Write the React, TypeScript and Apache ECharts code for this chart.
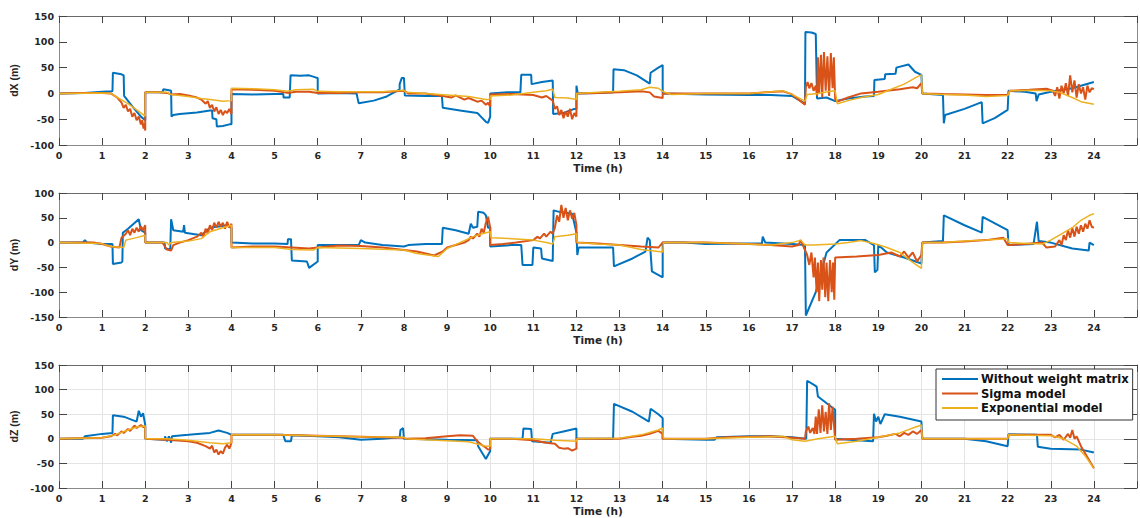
import React, { useEffect, useRef } from "react";
import * as echarts from "echarts";

// ---------- data (time in hours, value in metres) ----------
const seriesNames = ["Without weight matrix", "Sigma model", "Exponential model"];
const seriesColors = ["#0072BD", "#D95319", "#EDB120"];
const panelNames = ["dX (m)", "dY (m)", "dZ (m)"];
const panelMin = [-100, -150, -100];
const panelMax = [150, 100, 150];

const dxBlue = [[0,0],[0.6,1],[1.0,3],[1.24,4],[1.25,40],[1.45,37],[1.5,35],[1.51,-5],[1.7,-25],[1.9,-45],[2.0,-52],[2.0,2],[2.4,2],[2.42,8],[2.55,6],[2.6,5],[2.61,-45],[2.65,-42],[2.8,-40],[3.2,-37],[3.5,-33],[3.55,-33],[3.56,-48],[3.65,-50],[3.66,-64],[3.8,-63],[3.95,-60],[4.0,-60],[4.0,-1],[4.5,-2],[5.0,-1],[5.2,-1],[5.21,-8],[5.35,-8],[5.37,35],[5.6,34],[5.8,35],[5.95,31],[6.0,30],[6.0,0],[6.5,1],[6.9,0],[6.95,-19],[7.3,-14],[7.6,-6],[7.9,8],[7.9,18],[7.95,30],[8.0,30],[8.02,-4],[8.5,-5],[8.88,-5],[8.9,-28],[9.3,-33],[9.7,-38],[9.75,-42],[9.9,-55],[9.95,-57],[10.0,-45],[10.0,0],[10.4,2],[10.7,2],[10.72,36],[10.95,36],[10.96,18],[11.2,22],[11.45,25],[11.46,-40],[11.7,-38],[11.95,-30],[12.0,-30],[12.0,15],[12.03,0],[12.5,1],[12.85,2],[12.86,47],[13.1,45],[13.4,35],[13.7,19],[13.72,40],[13.9,50],[14.0,55],[14.0,0],[14.5,-1],[15,-2],[16,-3],[16.5,-3],[17.0,-5],[17.3,-20],[17.31,119],[17.45,118],[17.55,115],[17.58,-10],[17.8,-8],[18.0,-15],[18.3,-10],[18.7,-6],[18.9,-5],[18.91,26],[19.15,28],[19.16,37],[19.4,38],[19.42,50],[19.7,56],[19.85,42],[20,36],[20.02,0],[20.5,-3],[20.52,-58],[20.55,-42],[21.0,-30],[21.4,-17],[21.42,-58],[21.7,-48],[22,-32],[22.02,5],[22.4,3],[22.65,0],[22.67,-15],[22.72,-2],[23,3],[23.5,10],[24,22]];
const dxOrange = [[0,0],[0.5,1],[1.0,1],[1.2,0],[1.35,-8],[1.45,-18],[1.5,-28],[1.55,-22],[1.6,-35],[1.65,-30],[1.7,-45],[1.75,-38],[1.8,-52],[1.85,-45],[1.9,-60],[1.93,-52],[1.96,-68],[1.98,-58],[2.0,-72],[2.0,2],[2.3,2],[2.5,1],[2.6,-2],[2.8,-1],[3.0,-4],[3.2,-8],[3.3,-12],[3.4,-20],[3.45,-15],[3.5,-28],[3.55,-22],[3.6,-35],[3.65,-27],[3.7,-40],[3.75,-32],[3.8,-42],[3.85,-34],[3.9,-38],[3.95,-30],[4.0,-40],[4.0,8],[4.5,7],[5.0,5],[5.3,1],[5.5,3],[5.8,3],[6.0,1],[6.5,1],[7.0,2],[7.5,2],[8.0,5],[8.1,0],[8.5,0],[8.9,-5],[9.1,-8],[9.2,-4],[9.4,-12],[9.5,-9],[9.7,-16],[9.8,-14],[9.9,-22],[9.95,-18],[10.0,-26],[10.0,-2],[10.5,-1],[11.0,-3],[11.2,-8],[11.3,-5],[11.45,-14],[11.5,-30],[11.55,-25],[11.6,-42],[11.65,-32],[11.7,-48],[11.75,-35],[11.8,-45],[11.85,-30],[11.9,-50],[11.95,-38],[12.0,-45],[12.0,0],[12.5,1],[13.0,2],[13.5,4],[13.7,2],[13.8,-6],[14.0,-9],[14.0,0],[15,0],[16,0],[16.8,4],[17.0,-2],[17.3,-22],[17.32,12],[17.36,22],[17.4,10],[17.45,20],[17.5,5],[17.55,15],[17.58,-5],[17.6,70],[17.63,0],[17.67,75],[17.7,-8],[17.74,80],[17.78,5],[17.82,72],[17.86,-5],[17.9,78],[17.94,10],[17.97,70],[18.0,-12],[18.05,-16],[18.3,-8],[18.6,0],[19,3],[19.5,8],[19.8,12],[19.9,10],[20,20],[20.02,0],[20.5,-1],[21,-2],[21.5,-3],[22,-3],[22.05,5],[22.5,7],[22.9,9],[23.05,5],[23.1,-5],[23.15,12],[23.2,-10],[23.25,15],[23.3,0],[23.35,20],[23.4,-5],[23.45,35],[23.5,2],[23.55,25],[23.6,-8],[23.65,18],[23.7,0],[23.75,12],[23.8,-12],[23.85,15],[23.9,2],[23.95,10],[24,8]];
const dxYellow = [[0,0],[1.0,1],[1.2,0],[1.4,-10],[1.6,-20],[1.8,-32],[2.0,-44],[2.0,2],[2.5,2],[2.6,-2],[3.0,-6],[3.3,-10],[3.6,-13],[3.8,-15],[4.0,-14],[4.0,10],[4.5,9],[5.0,7],[5.3,4],[5.5,7],[5.9,8],[6.0,4],[6.5,3],[7.5,3],[8.0,6],[8.05,2],[8.5,0],[9.0,-3],[9.5,-6],[9.9,-12],[10.0,-12],[10.0,-5],[10.5,-3],[11,2],[11.3,5],[11.45,8],[11.5,-8],[11.8,-9],[12,-12],[12.0,0],[12.5,2],[13,4],[13.5,7],[13.7,12],[13.9,10],[14.0,4],[14.2,-2],[15,0],[16,0],[16.8,5],[17.0,-2],[17.3,-15],[17.35,-2],[17.6,0],[17.9,4],[18.0,5],[18.05,-20],[18.3,-14],[18.6,-8],[19,-2],[19.3,8],[19.6,18],[19.9,32],[20,36],[20.02,0],[20.5,-2],[21,-3],[21.5,-6],[22,-4],[22.05,5],[22.5,6],[23,5],[23.2,2],[23.5,-8],[23.7,-16],[24,-21]];

const dyBlue = [[0,0],[0.55,0],[0.6,5],[0.65,0],[1.0,-3],[1.24,-3],[1.25,-43],[1.45,-40],[1.47,-38],[1.48,20],[1.6,28],[1.85,47],[1.9,25],[2.0,20],[2.0,0],[2.45,0],[2.46,-12],[2.58,-14],[2.6,47],[2.65,25],[2.88,22],[2.9,35],[2.92,20],[3.3,15],[3.5,30],[3.9,35],[4.0,30],[4.0,0],[4.5,-2],[5.0,-2],[5.3,-3],[5.31,7],[5.38,7],[5.4,-36],[5.75,-38],[5.8,-51],[6.0,-38],[6.0,-5],[6.5,-5],[6.95,-5],[7.0,5],[7.1,0],[7.5,-5],[8.0,-8],[8.1,-5],[8.5,-3],[8.88,-3],[8.9,30],[9.2,25],[9.5,18],[9.55,38],[9.6,30],[9.7,32],[9.72,62],[9.85,60],[9.9,55],[9.95,30],[10.0,30],[10.0,-8],[10.5,-5],[10.72,-5],[10.75,-45],[10.98,-45],[11.0,-10],[11.18,-12],[11.2,-32],[11.45,-37],[11.47,65],[11.6,62],[11.9,58],[12.0,20],[12.02,-25],[12.05,-10],[12.5,-10],[12.85,-10],[12.87,-48],[13.3,-32],[13.6,-18],[13.65,10],[13.7,5],[13.75,-58],[14.0,-70],[14.0,0],[14.5,0],[15.0,-3],[16.0,-2],[16.3,-2],[16.32,12],[16.38,0],[17.0,-3],[17.3,-5],[17.32,-147],[17.55,-100],[17.8,-20],[18.1,5],[18.7,5],[18.9,-5],[18.92,-60],[18.98,-55],[19.0,-5],[19.2,-20],[19.6,-30],[20,-42],[20.02,0],[20.5,3],[20.52,55],[21.0,35],[21.4,20],[21.42,52],[22,25],[22.02,-5],[22.6,-3],[22.62,8],[22.68,42],[22.72,3],[23.0,0],[23.5,-12],[23.88,-16],[23.9,0],[24,-5]];
const dyOrange = [[0,0],[0.8,0],[1.0,-3],[1.2,-8],[1.4,-10],[1.45,10],[1.55,18],[1.6,25],[1.65,15],[1.7,28],[1.75,20],[1.8,30],[1.85,22],[1.9,33],[1.95,25],[2.0,35],[2.0,0],[2.4,0],[2.5,-14],[2.6,-16],[2.65,-5],[2.8,0],[3.0,5],[3.2,12],[3.3,20],[3.35,12],[3.4,28],[3.45,18],[3.5,35],[3.55,25],[3.6,40],[3.65,30],[3.7,42],[3.75,32],[3.8,40],[3.85,28],[3.9,42],[3.95,30],[4.0,38],[4.0,-10],[4.5,-8],[5,-8],[5.4,-10],[5.8,-12],[6.0,-10],[6.5,-6],[7,-7],[7.5,-10],[8,-15],[8.3,-18],[8.7,-26],[8.9,-18],[9.0,-10],[9.2,-5],[9.4,0],[9.5,5],[9.55,12],[9.6,8],[9.7,18],[9.75,12],[9.8,28],[9.85,20],[9.9,40],[9.95,52],[10.0,30],[10.0,-5],[10.3,-3],[10.6,0],[11.0,5],[11.1,12],[11.15,8],[11.25,18],[11.3,12],[11.4,22],[11.45,18],[11.5,30],[11.55,55],[11.6,42],[11.65,76],[11.7,50],[11.75,70],[11.8,45],[11.85,65],[11.9,48],[11.95,60],[12.0,35],[12.0,0],[12.5,-2],[13.0,-5],[13.5,-8],[13.9,-10],[14.0,0],[15,0],[16,-3],[16.5,-5],[17,-8],[17.15,-5],[17.2,5],[17.25,-5],[17.35,-25],[17.4,-45],[17.45,-20],[17.5,-70],[17.53,-30],[17.57,-100],[17.6,-40],[17.63,-118],[17.67,-35],[17.7,-95],[17.73,-30],[17.77,-110],[17.8,-40],[17.84,-118],[17.88,-35],[17.92,-100],[17.95,-40],[17.98,-115],[18.0,-30],[18.5,-28],[19,-25],[19.3,-20],[19.5,-28],[19.6,-18],[19.7,-30],[19.8,-20],[19.9,-38],[20,-25],[20.02,0],[20.5,0],[21,2],[21.5,5],[21.9,10],[22.0,-5],[22.4,-3],[22.8,0],[22.9,-10],[23.1,-8],[23.2,5],[23.25,-5],[23.3,15],[23.35,5],[23.4,25],[23.45,10],[23.5,30],[23.55,12],[23.6,32],[23.65,18],[23.7,35],[23.75,22],[23.8,38],[23.85,28],[23.9,45],[23.95,32],[24,30]];
const dyYellow = [[0,0],[1.0,-2],[1.2,-8],[1.5,-10],[1.55,5],[1.8,10],[2.0,15],[2.0,0],[2.5,0],[2.55,-5],[2.6,0],[3.0,3],[3.3,8],[3.5,22],[3.8,30],[4.0,35],[4.0,-10],[4.5,-10],[5,-10],[5.4,-14],[5.9,-15],[6.0,-10],[7,-12],[8,-15],[8.3,-22],[8.8,-28],[9.0,-12],[9.3,0],[9.6,12],[9.9,20],[10,22],[10.02,10],[10.5,8],[11,5],[11.3,0],[11.45,-3],[11.5,12],[11.8,15],[12,18],[12.02,0],[12.5,-3],[13,-5],[13.5,-14],[14,-19],[14.02,0],[15,0],[16,-3],[16.5,-5],[17,0],[17.2,5],[17.3,-5],[17.5,-5],[18,-3],[18.3,0],[18.6,4],[18.9,-2],[19.2,-10],[19.5,-20],[19.8,-40],[20,-52],[20.02,0],[20.5,0],[21,3],[21.5,5],[22,8],[22.02,0],[22.8,-3],[23,5],[23.3,20],[23.5,30],[23.7,45],[23.9,55],[24,58]];

const dzBlue = [[0,0],[0.55,0],[0.6,5],[1.0,10],[1.24,12],[1.25,48],[1.5,45],[1.8,35],[1.85,57],[1.9,45],[1.95,52],[2.0,28],[2.0,0],[2.45,-2],[2.46,5],[2.5,-5],[2.55,5],[2.6,-8],[2.62,5],[3.0,8],[3.5,12],[3.7,17],[3.9,12],[4.0,8],[4.5,8],[5.2,8],[5.25,-5],[5.38,-5],[5.4,7],[6,5],[6.5,3],[7,-2],[7.5,0],[7.9,3],[7.92,18],[7.98,22],[8.0,0],[8.5,-1],[9,-2],[9.7,-3],[9.72,-15],[9.9,-41],[10.0,-25],[10.0,0],[10.5,0],[10.75,0],[10.77,21],[10.95,20],[10.97,-5],[11.4,-8],[11.45,10],[11.7,15],[12.0,21],[12.0,0],[12.85,0],[12.87,71],[13.3,55],[13.68,35],[13.72,61],[13.9,50],[14,42],[14.0,0],[15,-2],[15.2,-2],[15.25,3],[16,5],[16.5,5],[17,3],[17.33,0],[17.35,118],[17.5,110],[17.57,106],[17.6,86],[18,59],[18.0,0],[18.5,-3],[18.88,-5],[18.9,51],[18.95,35],[19.0,45],[19.05,30],[19.15,50],[19.5,45],[20,35],[20.02,0],[21,0],[21.5,-5],[22,-15],[22.02,9],[22.68,8],[22.7,-16],[23,-20],[23.7,-22],[24,-28]];
const dzOrange = [[0,0],[1.0,2],[1.2,5],[1.3,10],[1.35,7],[1.45,15],[1.5,12],[1.6,20],[1.65,16],[1.75,27],[1.8,22],[1.9,28],[1.95,24],[2.0,25],[2.0,0],[2.5,-2],[3.0,-5],[3.2,-8],[3.4,-15],[3.5,-20],[3.55,-14],[3.6,-28],[3.65,-22],[3.7,-32],[3.75,-25],[3.8,-30],[3.85,-18],[3.9,-12],[3.95,-20],[4.0,-8],[4.0,8],[5,8],[6,6],[7,4],[8,2],[8.05,0],[8.5,1],[9,5],[9.3,7],[9.6,6],[9.7,-5],[9.8,-12],[9.9,-18],[9.95,-22],[10,-20],[10,0],[10.5,0],[11,-3],[11.3,-8],[11.5,-10],[11.6,-18],[11.7,-20],[11.8,-19],[11.9,-24],[12,-20],[12.0,0],[12.5,0],[13,0],[13.3,4],[13.5,6],[13.7,10],[13.9,16],[14,10],[14.0,0],[15,0],[15.5,3],[16,4],[16.5,5],[17,2],[17.3,0],[17.32,15],[17.38,25],[17.42,12],[17.48,22],[17.52,10],[17.55,45],[17.58,10],[17.62,60],[17.66,12],[17.7,68],[17.74,15],[17.78,55],[17.82,10],[17.86,72],[17.9,18],[17.94,65],[17.98,20],[18.0,-2],[18.5,0],[19,3],[19.2,6],[19.4,10],[19.5,5],[19.6,12],[19.7,8],[19.8,15],[19.9,10],[20,18],[20.02,0],[21,0],[22,0],[22.02,8],[23,8],[23.1,3],[23.2,8],[23.3,-2],[23.4,10],[23.45,2],[23.5,18],[23.55,0],[23.6,5],[23.7,-15],[23.8,-30],[23.9,-45],[24,-60]];
const dzYellow = [[0,0],[1,2],[1.3,8],[1.6,18],[1.8,24],[2.0,26],[2.0,0],[2.5,0],[3.0,-3],[3.5,-8],[3.8,-10],[4.0,-8],[4.0,8],[5,8],[6,6],[7,4],[8,3],[8.05,0],[8.5,-2],[9,-4],[9.5,-6],[9.9,-15],[10,-15],[10.0,0],[11,0],[11.5,-3],[12,-5],[12.02,0],[13,1],[13.5,8],[13.9,18],[14,22],[14.02,0],[15,0],[16,3],[16.8,5],[17,-2],[17.3,-5],[17.6,0],[18,5],[18.05,-10],[18.5,-5],[19,3],[19.5,12],[19.9,25],[20,28],[20.02,0],[21,0],[22,0],[22.02,8],[23,6],[23.3,0],[23.6,-15],[23.8,-35],[24,-60]];

const panelData = [
  [dxBlue, dxOrange, dxYellow],
  [dyBlue, dyOrange, dyYellow],
  [dzBlue, dzOrange, dzYellow],
];

// ---------- layout ----------
const gridTops = [16, 193, 365];
const gridHeights = [129, 124, 123];
const FONT = "DejaVu Sans";

export default function App() {
  const ref = useRef<HTMLDivElement>(null);
  useEffect(() => {
    document.body.style.margin = "0";
    if (!ref.current) return;
    const chart = echarts.init(ref.current, undefined, { renderer: "svg" });
    const grids: any[] = [];
    const xAxes: any[] = [];
    const yAxes: any[] = [];
    const series: any[] = [];
    const lineWidths = [2, 2, 1.5];
    for (let p = 0; p < 3; p++) {
      grids.push({ left: 59, top: gridTops[p], width: 1091, height: gridHeights[p] });
      const showGrid = p === 2;
      xAxes.push({
        type: "value", gridIndex: p, min: 0, max: 25, interval: 1, position: "bottom",
        axisLine: { show: true, onZero: false, lineStyle: { color: "#8a8a8a", width: 1 } },
        axisTick: { show: true, inside: true, length: 7, lineStyle: { color: "#444" } },
        axisLabel: {
          margin: 5, fontFamily: FONT, fontWeight: "bold", fontSize: 9.5, color: "#262626",
          formatter: (v: number) => (v > 24 ? "" : String(v)),
        },
        splitLine: { show: showGrid, lineStyle: { color: "#e4e4e4", width: 1 } },
        name: "Time (h)", nameLocation: "middle", nameGap: 17,
        nameTextStyle: { fontFamily: FONT, fontWeight: "bold", fontSize: 10.5, color: "#262626" },
      });
      xAxes.push({
        type: "value", gridIndex: p, min: 0, max: 25, interval: 1, position: "top",
        axisLine: { show: true, onZero: false, lineStyle: { color: "#6a6a6a", width: 1.2 } },
        axisTick: { show: true, inside: true, length: 7, lineStyle: { color: "#444" } },
        axisLabel: { show: false }, splitLine: { show: false },
      });
      yAxes.push({
        type: "value", gridIndex: p, min: panelMin[p], max: panelMax[p], interval: 50, position: "left",
        axisLine: { show: true, onZero: false, lineStyle: { color: "#8a8a8a", width: 1 } },
        axisTick: { show: true, inside: true, length: 8, lineStyle: { color: "#444" } },
        axisLabel: { margin: 5, fontFamily: FONT, fontWeight: "bold", fontSize: 9.5, color: "#262626" },
        splitLine: { show: showGrid, lineStyle: { color: "#e4e4e4", width: 1 } },
        name: panelNames[p], nameLocation: "middle", nameGap: 40, nameRotate: 90,
        nameTextStyle: { fontFamily: "Liberation Sans", fontWeight: "bold", fontSize: 10.5, color: "#262626" },
      });
      yAxes.push({
        type: "value", gridIndex: p, min: panelMin[p], max: panelMax[p], interval: 50, position: "right",
        axisLine: { show: true, onZero: false, lineStyle: { color: "#8a8a8a" } },
        axisTick: { show: true, inside: true, length: 13, lineStyle: { color: "#444" } },
        axisLabel: { show: false }, splitLine: { show: false },
      });
      for (let s = 0; s < 3; s++) {
        series.push({
          type: "line", name: seriesNames[s], xAxisIndex: 2 * p, yAxisIndex: 2 * p,
          data: panelData[p][s], symbol: "none", showSymbol: false,
          lineStyle: { color: seriesColors[s], width: lineWidths[s] },
          itemStyle: { color: seriesColors[s] },
          z: 2 + s,
        });
      }
    }
    chart.setOption({
      animation: false,
      backgroundColor: "#ffffff",
      grid: grids,
      xAxis: xAxes,
      yAxis: yAxes,
      series,
      legend: {
        data: seriesNames, orient: "vertical", left: 936, top: 369,
        icon: "rect", itemWidth: 36, itemHeight: 2, itemGap: 2.5,
        padding: [4, 4, 6, 6],
        backgroundColor: "#ffffff", borderColor: "#333", borderWidth: 1, borderRadius: 0,
        textStyle: { fontFamily: FONT, fontWeight: "bold", fontSize: 11.6, color: "#111", lineHeight: 12, padding: [0, 0, 0, -2] },
        z: 20,
      },
    });
    return () => chart.dispose();
  }, []);
  return <div ref={ref} style={{ width: 1140, height: 518 }} />;
}
